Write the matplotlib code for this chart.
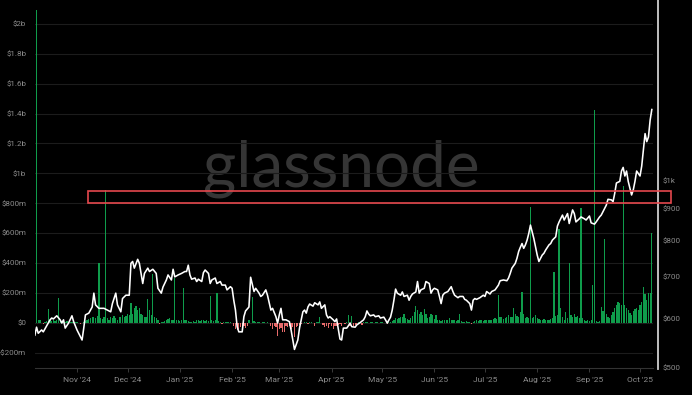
import numpy as np
import pandas as pd
import matplotlib
matplotlib.use("Agg")
import matplotlib.pyplot as plt
import matplotlib.dates as mdates
from matplotlib.patches import Rectangle
from matplotlib.lines import Line2D
from matplotlib.ticker import FixedLocator, FuncFormatter, NullLocator

start = pd.Timestamp("2024-10-07")

# daily net flow in $bn, one value per day from `start`
flow_bn = [
    0.01, 2.09, 0.02, 0.015, -0.005, -0.008, 0.005, 0.01, 0.09, 0.02, 0.01,
    0.015, 0.01, 0.02, 0.165, 0.01, 0.005, 0.008, 0.005, 0.01, 0.005,
    0.005, 0.003, 0.002, 0.004, 0.002, -0.004, -0.006, -0.003, 0.005, 0.01,
    0.015, 0.025, 0.03, 0.035, 0.04, 0.03, 0.045, 0.40, 0.03, 0.025,
    0.035, 0.888, 0.03, 0.02, 0.04, 0.03, 0.045, 0.03, 0.02, 0.035,
    0.04, 0.05, 0.035, 0.045, 0.06, 0.055, 0.13, 0.06, 0.1, 0.11,
    0.085, 0.1, 0.06, 0.05, 0.035, 0.04, 0.157, 0.085, 0.05, 0.326,
    0.04, 0.03, 0.02, -0.01, 0.003, 0.005, 0.01, 0.02, 0.025, 0.03,
    0.02, 0.015, 0.297, 0.02, 0.015, 0.01, 0.02, 0.23, 0.015, 0.02,
    0.01, 0.005, 0.008, 0.01, 0.005, 0.015, 0.02, 0.01, 0.015, 0.02,
    0.01, 0.015, 0.01, 0.179, 0.02, 0.01, 0.015, 0.197, 0.01, 0.005,
    -0.01, 0.003, 0.002, 0.004, 0.003, 0.002, -0.003, -0.02, -0.04, -0.05,
    -0.045, -0.03, -0.055, -0.02, -0.035, -0.02, 0.02, -0.005, 0.174, 0.01,
    0.005, 0.008, 0.003, -0.003, 0.002, 0.004, -0.002, 0.003, -0.005, -0.022,
    -0.04, -0.02, -0.03, -0.087, -0.04, -0.035, -0.06, -0.065, -0.02, -0.03,
    -0.025, -0.044, -0.03, -0.094, -0.03, -0.02, -0.015, -0.01, -0.005, 0.005,
    0.008, -0.01, 0.003, 0.005, -0.005, -0.02, 0.004, 0.006, 0.036, -0.004,
    -0.015, -0.03, -0.02, -0.037, -0.01, -0.02, -0.04, -0.025, -0.02, -0.015,
    -0.01, -0.025, -0.005, -0.01, 0.005, 0.05, -0.02, 0.045, -0.02, -0.015,
    -0.01, 0.003, -0.005, -0.015, 0.003, 0.004, 0.002, -0.003, 0.002, 0.004,
    -0.002, 0.003, 0.002, -0.003, 0.004, 0.003, -0.005, -0.004, -0.01, 0.003,
    0.005, 0.01, 0.02, 0.03, 0.025, 0.03, 0.035, 0.04, 0.058, 0.03,
    0.025, 0.02, 0.03, 0.045, 0.074, 0.114, 0.086, 0.06, 0.07, 0.055,
    0.09, 0.06, 0.03, 0.04, 0.06, 0.05, 0.025, 0.05, 0.015, 0.02,
    0.01, 0.015, 0.02, 0.015, 0.02, 0.03, 0.02, 0.015, 0.02, 0.01,
    0.02, 0.058, 0.01, 0.008, 0.005, 0.01, 0.006, 0.004, -0.008, 0.005,
    0.01, 0.015, 0.01, 0.02, 0.015, 0.01, 0.02, 0.015, 0.02, 0.015,
    0.02, 0.025, 0.03, 0.025, 0.185, 0.035, 0.04, 0.025, 0.03, 0.04,
    0.05, 0.04, 0.035, 0.1, 0.06, 0.045, 0.04, 0.07, 0.203, 0.06,
    0.03, 0.04, 0.03, 0.776, 0.03, 0.035, 0.05, 0.03, 0.025, 0.02,
    0.02, 0.025, 0.02, 0.015, 0.02, 0.025, 0.03, 0.341, 0.045, 0.05,
    0.63, 0.1, 0.04, 0.02, 0.07, 0.03, 0.397, 0.05, 0.04, 0.06,
    0.035, 0.045, 0.03, 0.766, 0.03, 0.02, 0.01, 0.015, 0.012, 0.02,
    0.252, 1.424, 0.01, 0.008, 0.012, 0.107, 0.08, 0.56, 0.06, 0.04,
    0.03, 0.05, 0.07, 0.1, 0.12, 0.14, 0.13, 0.12, 0.915, 0.12,
    0.1, 0.085, 0.065, 0.05, 0.08, 0.09, 0.1, 0.085, 0.12, 0.14,
    0.237, 0.19, 0.15, 0.2, 0.2, 0.6,
]

# price line (right axis, log): day offset from `start` and price in $
price_day = [
    0, 1, 2, 4, 5, 7, 9, 10, 11, 13, 15, 16, 17, 18, 20, 22, 23, 25, 27, 28,
    29, 30, 32, 34, 35, 36, 38, 41, 43, 45, 46, 48, 49, 51, 52, 54, 56, 57, 58, 59,
    61, 62, 64, 65, 67, 68, 70, 72, 73, 75, 76, 78, 79, 81, 82, 83, 85, 87, 89, 90,
    91, 92, 93, 95, 96, 97, 99, 100, 101, 103, 104, 105, 107, 108, 110, 111, 113, 114, 116, 117,
    118, 119, 120, 121, 123, 124, 125, 127, 128, 130, 131, 133, 134, 135, 137, 138, 140, 141, 143, 144,
    145, 146, 147, 149, 151, 152, 153, 154, 156, 157, 159, 160, 161, 162, 163, 165, 166, 168, 169, 170,
    172, 173, 174, 175, 177, 178, 179, 181, 182, 183, 185, 186, 187, 188, 190, 191, 193, 195, 196, 197,
    198, 199, 201, 202, 204, 205, 207, 208, 209, 211, 212, 213, 214, 215, 217, 218, 219, 221, 222, 223,
    224, 226, 227, 228, 229, 231, 232, 234, 235, 236, 237, 239, 240, 241, 242, 243, 245, 247, 248, 249,
    251, 252, 254, 255, 256, 258, 259, 260, 261, 262, 264, 266, 267, 268, 270, 271, 272, 273, 275, 276,
    278, 280, 281, 282, 283, 285, 286, 287, 288, 289, 290, 291, 292, 293, 294, 295, 296, 297, 298, 299,
    301, 302, 303, 305, 306, 307, 309, 310, 311, 313, 314, 316, 317, 319, 320, 321, 323, 324, 326, 327,
    329, 330, 332, 333, 335, 336, 338, 339, 340, 342, 343, 344, 345, 347, 348, 349, 350, 351, 352, 354,
    355, 356, 357, 359, 360, 361, 362, 363, 364, 365, 366,
]
price_usd = [
    564, 581, 568, 575, 571, 584, 597, 601, 599, 606, 597, 590, 597, 579, 590, 606, 593, 575, 561, 554,
    579, 608, 612, 626, 659, 631, 623, 623, 619, 615, 634, 659, 631, 615, 646, 654, 654, 736, 741, 723,
    747, 736, 683, 709, 723, 714, 720, 709, 671, 659, 674, 692, 705, 692, 720, 700, 705, 709, 714, 714,
    731, 705, 694, 697, 688, 694, 688, 711, 718, 709, 683, 692, 697, 683, 688, 679, 679, 667, 675, 671,
    642, 619, 582, 571, 571, 604, 617, 626, 699, 663, 671, 659, 651, 654, 667, 654, 619, 623, 604, 590,
    608, 623, 597, 597, 593, 575, 554, 535, 554, 579, 615, 619, 612, 626, 633, 628, 636, 631, 638, 623,
    631, 608, 601, 604, 597, 593, 599, 556, 554, 579, 579, 584, 590, 582, 581, 586, 591, 597, 604, 617,
    610, 606, 608, 604, 606, 601, 603, 597, 590, 603, 619, 642, 669, 659, 654, 662, 651, 654, 642, 651,
    657, 662, 688, 659, 667, 671, 688, 683, 659, 667, 671, 667, 651, 634, 654, 659, 663, 675, 663, 654,
    648, 651, 651, 644, 642, 634, 619, 642, 646, 644, 648, 654, 651, 663, 657, 663, 665, 667, 679, 690,
    692, 690, 697, 709, 723, 736, 750, 769, 781, 792, 778, 788, 802, 822, 848, 827, 807, 783, 759, 741,
    759, 764, 773, 788, 792, 802, 812, 845, 858, 880, 864, 885, 853, 897, 885, 858, 868, 874, 868, 864,
    877, 855, 851, 858, 874, 880, 902, 913, 933, 931, 925, 954, 991, 997, 1036, 1050, 1017, 1036, 997, 948,
    966, 997, 1036, 1017, 1055, 1120, 1190, 1155, 1175, 1251, 1301,
]

left_ticks = [-0.2, 0, 0.2, 0.4, 0.6, 0.8, 1.0, 1.2, 1.4, 1.6, 1.8, 2.0]
right_ticks = [500, 600, 700, 800, 900, 1000]

flow_dates = start + pd.to_timedelta(np.arange(len(flow_bn)), unit="D")
price_dates = start + pd.to_timedelta(price_day, unit="D")
flow = np.array(flow_bn)

W, H = 692, 395
BG = "#000000"
TXT = "#8c8c8c"
GREEN = "#0f9c4b"
RED = "#e86a6a"

fig = plt.figure(figsize=(W / 100, H / 100), dpi=100, facecolor=BG)

# watermark behind the data
fig.text(341 / W, 1 - 186 / H, "glassnode", ha="center", va="baseline",
         fontsize=46, color="#353535", family="Lato", zorder=-1)

ax = fig.add_axes([35 / W, 1 - 367.7 / H, (653 - 35) / W, 367.7 / H])
ax.patch.set_alpha(0)

colors = np.where(flow >= 0, GREEN, RED)
ax.bar(flow_dates, flow, width=0.75, color=colors, linewidth=0, zorder=2)

ax.set_ylim(-0.301, 2.160)
ax.set_xlim(start + pd.Timedelta(hours=2), start + pd.Timedelta(days=366.7))
ax.yaxis.set_major_locator(FixedLocator(left_ticks))


def fmt_left(v, pos):
    if abs(v) < 1e-9:
        return "$0"
    sign = "-" if v < 0 else ""
    v = abs(v)
    if v >= 1:
        return f"{sign}${v:g}b"
    return f"{sign}${v * 1000:.0f}m"


ax.yaxis.set_major_formatter(FuncFormatter(fmt_left))
ax.grid(axis="y", color="#1c1c1c", lw=0.8, zorder=0)
ax.set_axisbelow(True)

ax.xaxis.set_major_locator(mdates.MonthLocator())
ax.xaxis.set_major_formatter(mdates.DateFormatter("%b '%y"))
ax.tick_params(axis="x", colors="#444444", labelcolor=TXT, labelsize=6,
               length=3, width=0.6, pad=4)
ax.tick_params(axis="y", length=0, labelcolor=TXT, labelsize=5.8, pad=6.3)
for lab in ax.get_xticklabels() + ax.get_yticklabels():
    lab.set_family("Roboto")

for s in ["top", "left", "right"]:
    ax.spines[s].set_visible(False)
ax.spines["bottom"].set_color("#333333")
ax.spines["bottom"].set_linewidth(0.8)

ax2 = ax.twinx()
ax2.plot(price_dates, price_usd, color="white", lw=1.15, zorder=3)
ax2.set_yscale("log")
ax2.set_ylim(500, 1952)
ax2.yaxis.set_major_locator(FixedLocator(right_ticks))
ax2.yaxis.set_minor_locator(NullLocator())
ax2.yaxis.set_major_formatter(
    FuncFormatter(lambda v, p: "$1k" if v >= 1000 else f"${v:.0f}"))
ax2.tick_params(axis="y", length=0, labelcolor=TXT, labelsize=5.8, pad=7)
for lab in ax2.get_yticklabels():
    lab.set_family("Roboto")
for s in ax2.spines.values():
    s.set_visible(False)

# vertical marker line at right edge
fig.add_artist(Line2D([658 / W, 658 / W], [1 - 369 / H, 1], color="#cfcfcf", lw=1.3))

# highlighted band
fig.add_artist(Rectangle((88 / W, 1 - 203 / H), (671 - 88) / W, 12 / H,
                         transform=fig.transFigure, fill=False,
                         edgecolor="#e5484d", lw=1.2, zorder=10))

fig.savefig("out.png", dpi=100, facecolor=BG)
